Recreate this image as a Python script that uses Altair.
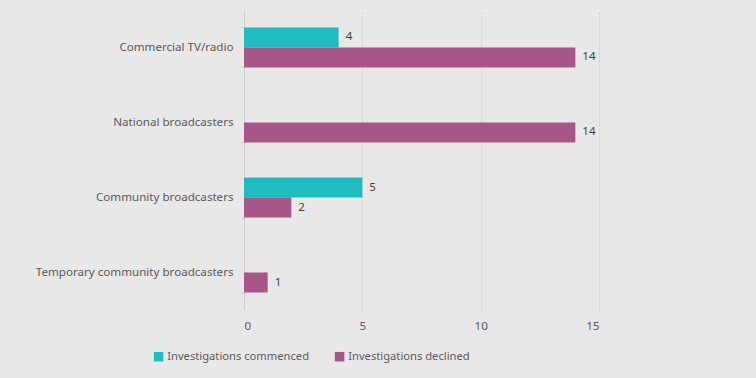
import altair as alt
import pandas as pd

categories = ["Commercial TV/radio", "National broadcasters", "Community broadcasters", "Temporary community broadcasters"]
series = ["Investigations commenced", "Investigations declined"]
commenced = [4, 0, 5, 0]
declined = [14, 14, 2, 1]
colors = ["#1FBDBF", "#A85587"]

rows = []
for c, a, b in zip(categories, commenced, declined):
    rows.append({"category": c, "series": series[0], "value": a})
    rows.append({"category": c, "series": series[1], "value": b})
df = pd.DataFrame(rows)

FONT = "Noto Sans"
FS = 11.6

y = alt.Y("category:N", sort=categories, title=None,
          scale=alt.Scale(paddingInner=0.4667, paddingOuter=0.2333),
          axis=alt.Axis(labelFont=FONT, labelFontSize=FS, labelColor="#595959",
                        labelPadding=8, tickBand="extent", tickSize=3,
                        tickColor="#c8c8c8", domainColor="#c8c8c8", domainDash=[2, 2],
                        labelLimit=300))
yoff = alt.YOffset("series:N", sort=series, scale=alt.Scale(domain=series))
x = alt.X("value:Q", title=None, scale=alt.Scale(domain=[0, 15], nice=False),
          axis=alt.Axis(values=[0, 5, 10, 15], labelFont=FONT, labelFontSize=FS,
                        labelColor="#595959", labelPadding=10, ticks=False, domain=False,
                        grid=True, gridColor="#cfcfcf", gridDash=[2, 2], format="d"))

bars = alt.Chart(df).mark_bar().encode(
    y=y, yOffset=yoff, x=x,
    color=alt.Color("series:N", sort=series,
                    scale=alt.Scale(domain=series, range=colors),
                    legend=alt.Legend(title=None, orient="none", direction="horizontal",
                                      legendX=-91, legendY=341, symbolType="square",
                                      symbolSize=90, symbolStrokeWidth=0,
                                      labelFont=FONT, labelFontSize=11.2, labelColor="#595959",
                                      columnPadding=24, labelOffset=3)),
)

labels = alt.Chart(df).transform_filter("datum.value > 0").mark_text(
    align="left", baseline="middle", dx=7, font=FONT, fontSize=FS, color="#404040"
).encode(y=y, yOffset=yoff, x=x, text=alt.Text("value:Q"))

chart = (bars + labels).properties(
    width=355, height=300,
    background="#E8E8E8",
    autosize=alt.AutoSizeParams(type="none"),
    padding={"left": 244, "top": 10, "right": 157, "bottom": 68},
).configure_view(stroke=None)

chart.save("out.html", embed_options={"renderer": "svg", "actions": False})
